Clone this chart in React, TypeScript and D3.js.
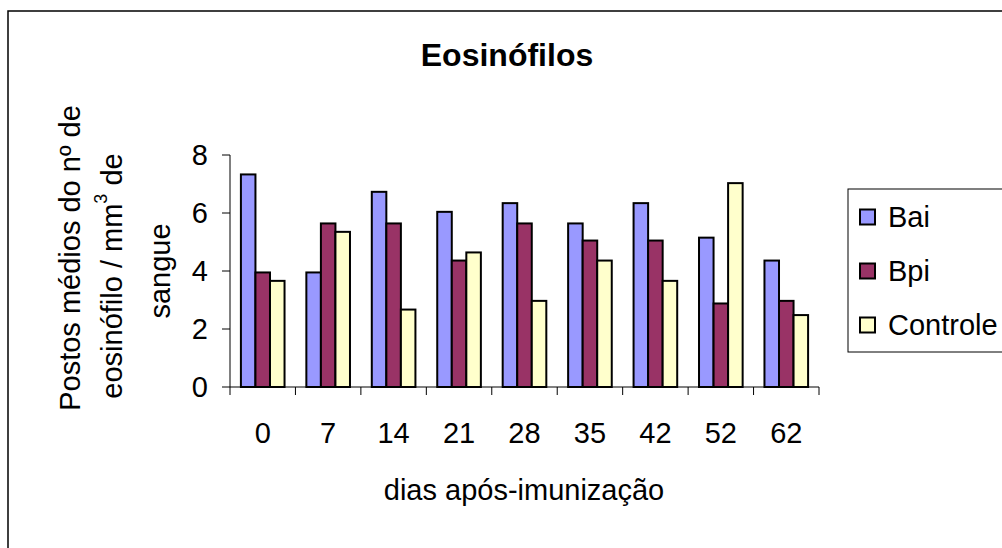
import React from "react";
import * as d3 from "d3";

const categories = ["0", "7", "14", "21", "28", "35", "42", "52", "62"];
const seriesNames = ["Bai", "Bpi", "Controle"];
const baiValues = [7.33, 3.95, 6.73, 6.04, 6.34, 5.64, 6.34, 5.15, 4.36];
const bpiValues = [3.95, 5.64, 5.64, 4.36, 5.64, 5.05, 5.05, 2.88, 2.97];
const controleValues = [3.66, 5.35, 2.67, 4.64, 2.97, 4.36, 3.66, 7.03, 2.48];
const seriesColors = ["#9999FF", "#993366", "#FFFFCC"];
const yTicks = [0, 2, 4, 6, 8];

const FONT = "'Liberation Sans', Arial, sans-serif";
const FS = 29;

export default function App() {
  const W = 1002;
  const H = 548;
  const left = 230;
  const right = 819;
  const top = 155;
  const bottom = 387;

  const x0 = d3.scaleBand<string>().domain(categories).range([left, right]).paddingInner(0).paddingOuter(0);
  const bw = x0.bandwidth();
  const x1 = d3
    .scaleBand<string>()
    .domain(seriesNames)
    .range([(bw * 0.75) / 4.5, (bw * 3.75) / 4.5])
    .padding(0);
  const y = d3.scaleLinear().domain([0, 8]).range([bottom, top]);

  const allSeries = [baiValues, bpiValues, controleValues];

  const legendTop = 189;
  const legendBottom = 352;
  const legendItemsY = [217, 271, 325];

  return (
    <svg
      width={W}
      height={H}
      style={{ position: "absolute", left: 0, top: 0, background: "#fff" }}
      fontFamily={FONT}
    >
      <rect x={0} y={0} width={W} height={H} fill="#fff" />
      <rect x={8} y={11} width={W + 20} height={H + 20} fill="none" stroke="#000" strokeWidth={1.5} />

      <text x={507} y={55} textAnchor="middle" dominantBaseline="central" fontSize={32} fontWeight="bold">
        Eosinófilos
      </text>

      {allSeries.map((vals, si) =>
        vals.map((v, ci) => (
          <rect
            key={`${si}-${ci}`}
            x={(x0(categories[ci]) as number) + (x1(seriesNames[si]) as number)}
            y={y(v)}
            width={x1.bandwidth()}
            height={bottom - y(v)}
            fill={seriesColors[si]}
            stroke="#000"
            strokeWidth={2}
          />
        ))
      )}

      <line x1={left} x2={left} y1={top} y2={bottom} stroke="#000" strokeWidth={1} />
      {yTicks.map((t) => (
        <g key={t}>
          <line x1={left - 8} x2={left} y1={y(t)} y2={y(t)} stroke="#000" strokeWidth={1} />
          <text x={208} y={y(t)} textAnchor="end" dominantBaseline="central" fontSize={FS}>
            {t}
          </text>
        </g>
      ))}

      <line x1={left} x2={right} y1={bottom} y2={bottom} stroke="#000" strokeWidth={1} />
      {categories.map((c) => (
        <line
          key={"t" + c}
          x1={x0(c) as number}
          x2={x0(c) as number}
          y1={bottom}
          y2={bottom + 8}
          stroke="#000"
          strokeWidth={1}
        />
      ))}
      <line x1={right} x2={right} y1={bottom} y2={bottom + 8} stroke="#000" strokeWidth={1} />
      {categories.map((c) => (
        <text
          key={"l" + c}
          x={(x0(c) as number) + bw / 2}
          y={433}
          textAnchor="middle"
          dominantBaseline="central"
          fontSize={FS}
        >
          {c}
        </text>
      ))}

      <text x={524} y={490} textAnchor="middle" dominantBaseline="central" fontSize={FS}>
        dias após-imunização
      </text>

      <g transform="translate(70,258) rotate(-90)">
        <text x={0} y={0} textAnchor="middle" dominantBaseline="central" fontSize={FS}>
          Postos médios do nº de
        </text>
      </g>
      <g transform="translate(112,276) rotate(-90)">
        <text x={0} y={0} textAnchor="middle" dominantBaseline="central" fontSize={FS}>
          eosinófilo / mm
          <tspan fontSize={18} dy={-11}>3</tspan>
          <tspan dy={11}> de</tspan>
        </text>
      </g>
      <g transform="translate(160,271) rotate(-90)">
        <text x={0} y={0} textAnchor="middle" dominantBaseline="central" fontSize={FS}>
          sangue
        </text>
      </g>

      <rect
        x={848}
        y={legendTop}
        width={200}
        height={legendBottom - legendTop}
        fill="#fff"
        stroke="#000"
        strokeWidth={1}
      />
      {seriesNames.map((s, i) => (
        <g key={s}>
          <rect
            x={860}
            y={legendItemsY[i] - 7.5}
            width={15}
            height={15}
            fill={seriesColors[i]}
            stroke="#000"
            strokeWidth={2}
          />
          <text x={888} y={legendItemsY[i]} dominantBaseline="central" fontSize={FS}>
            {s}
          </text>
        </g>
      ))}
    </svg>
  );
}
